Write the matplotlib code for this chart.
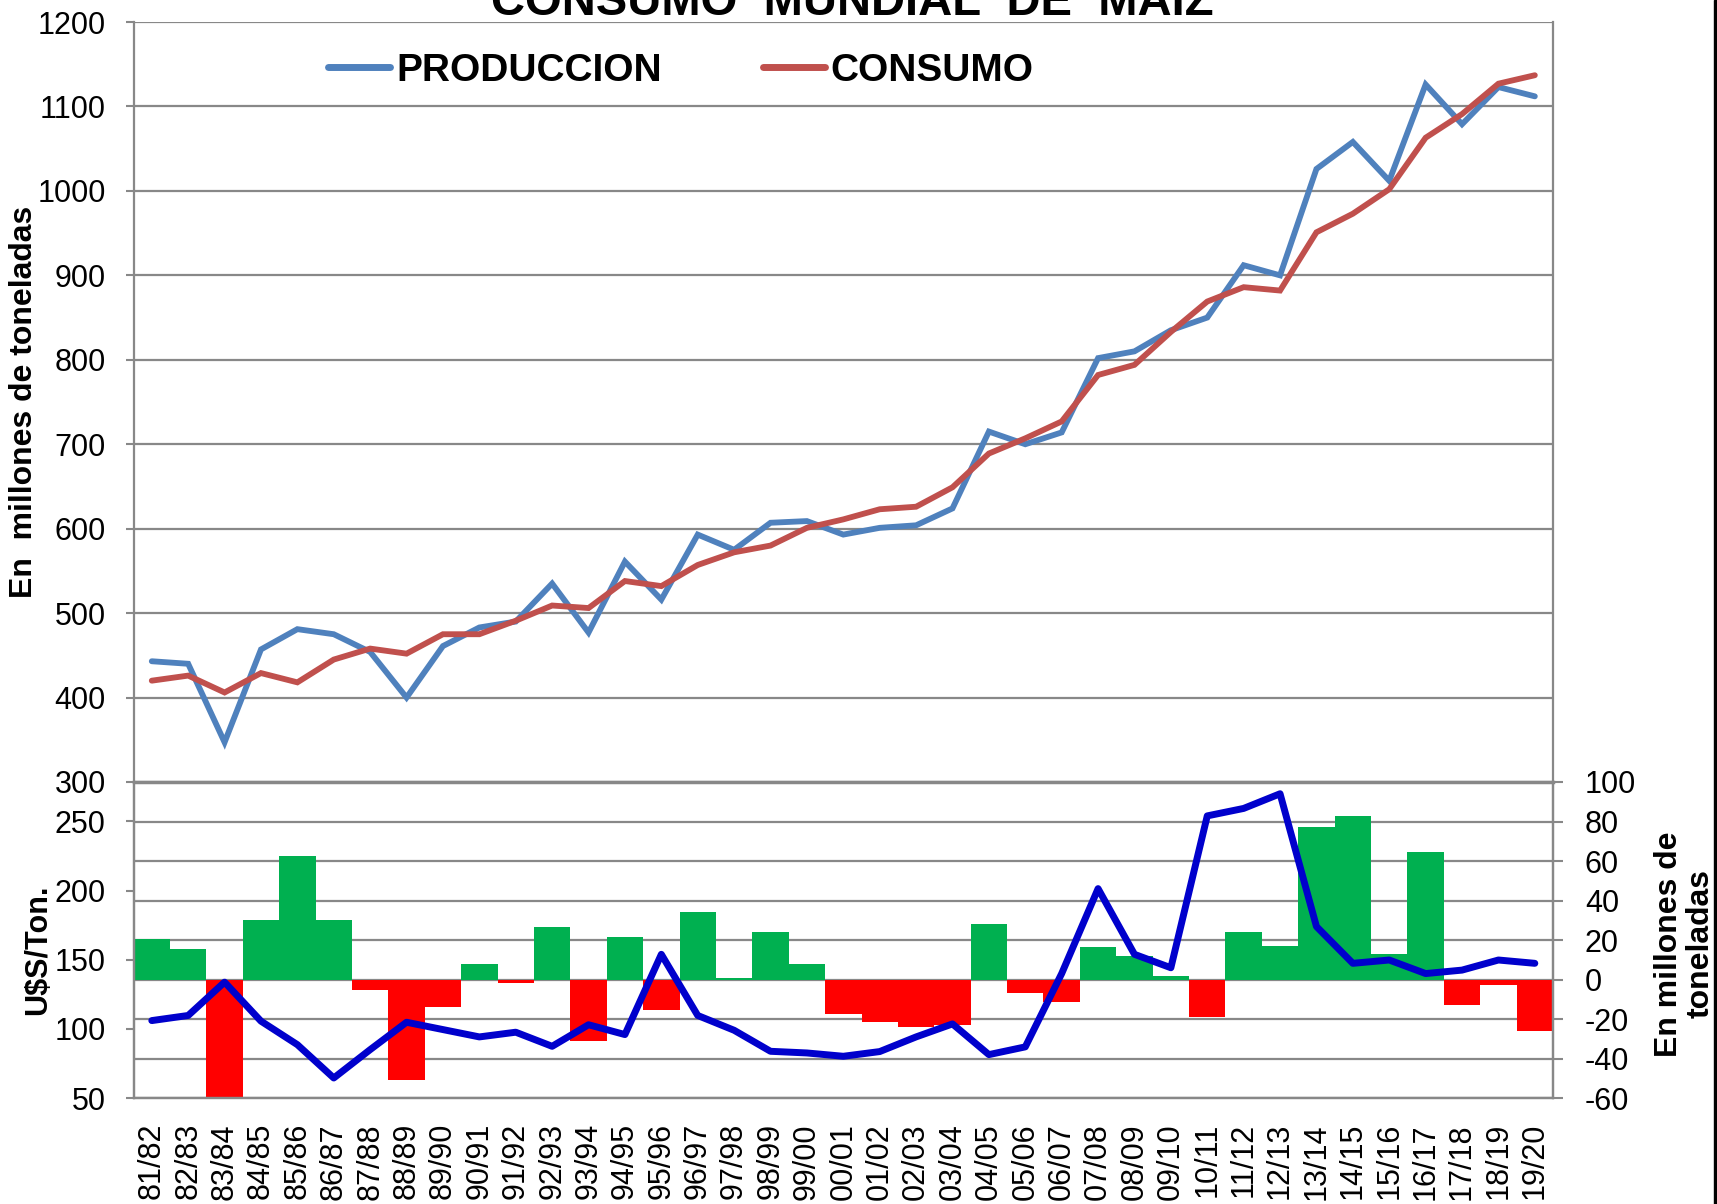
import matplotlib
matplotlib.use("Agg")
import matplotlib.pyplot as plt
from matplotlib.lines import Line2D
from matplotlib.patches import Rectangle

plt.rcParams["font.family"] = ["Liberation Sans", "DejaVu Sans"]
plt.rcParams["axes.unicode_minus"] = False

# Campañas
campanias = ["81/82", "82/83", "83/84", "84/85", "85/86", "86/87", "87/88", "88/89",
             "89/90", "90/91", "91/92", "92/93", "93/94", "94/95", "95/96", "96/97",
             "97/98", "98/99", "99/00", "00/01", "01/02", "02/03", "03/04", "04/05",
             "05/06", "06/07", "07/08", "08/09", "09/10", "10/11", "11/12", "12/13",
             "13/14", "14/15", "15/16", "16/17", "17/18", "18/19", "19/20"]

# millones de toneladas
produccion = [443, 440, 347, 457, 481, 475, 454, 400, 461, 483, 490, 535, 477, 561,
              516, 593, 575, 607, 609, 593, 601, 604, 624, 715, 700, 714, 802, 810,
              835, 850, 912, 900, 1026, 1058, 1012, 1126, 1079, 1123, 1112]
consumo = [420, 426, 406, 429, 418, 445, 458, 452, 475, 475, 491, 509, 506, 538,
           532, 557, 572, 580, 601, 611, 623, 626, 649, 689, 707, 727, 782, 794,
           833, 869, 886, 882, 951, 973, 1002, 1063, 1091, 1127, 1137]

# saldo (millones de toneladas, eje derecho)
saldo = [20.3, 15.6, -60, 30.3, 62.3, 30.3, -5.4, -51.1, -14, 8.1, -1.9, 26.6, -31.3,
         21.7, -15.6, 34, 0.8, 24.2, 8.1, -17.4, -21.5, -24, -22.8, 27.9, -6.8, -11.5,
         16.6, 11.8, 2, -19.1, 24, 16.9, 77, 82.9, 13, 64.6, -13, -2.9, -26.2]

# precio U$S/Ton (eje izquierdo inferior)
precio = [106, 109.7, 133.8, 105.6, 88.6, 64.5, 85, 104.8, 99.5, 94.2, 97.6, 87.4, 103,
          95.9, 153.9, 109.7, 99, 83.8, 82.6, 80.2, 83.6, 94.2, 103.6, 81.4, 87, 140,
          201.4, 153.9, 144.2, 254, 259.4, 270, 174, 147.4, 149.8, 140, 142.5, 149.8, 147.4]

GRIS = "#888888"
x = list(range(len(campanias)))

fig = plt.figure(figsize=(17.17, 12.04), dpi=100)

# ---- panel superior
ax = fig.add_axes([0.0778, 0.3505, 0.8267, 0.6312])
ax.plot(x, produccion, color="#4F81BD", lw=4.2, solid_capstyle="round", solid_joinstyle="miter", zorder=3)
ax.plot(x, consumo, color="#C0504D", lw=4.2, solid_capstyle="round", solid_joinstyle="miter", zorder=4)
ax.set_xlim(-0.5, len(x) - 0.5)
ax.set_ylim(300, 1200)
ax.set_yticks(range(300, 1201, 100))
ax.set_xticks([])
ax.grid(axis="y", color=GRIS, lw=1.6)
ax.set_axisbelow(True)
for s in ["left", "right", "bottom"]:
    ax.spines[s].set_color(GRIS)
    ax.spines[s].set_linewidth(1.6)
ax.spines["bottom"].set_linewidth(2.5)
ax.spines["top"].set_visible(False)
ax.tick_params(axis="y", labelsize=22, length=6, width=1.5, color=GRIS, pad=14)

# ---- panel inferior
axp = fig.add_axes([0.0778, 0.0880, 0.8267, 0.2625])
axb = axp.twinx()
colores = ["#00B050" if v >= 0 else "#FF0000" for v in saldo]
axb.bar(x, saldo, width=1.0, color=colores, linewidth=0, zorder=2)
axb.set_ylim(-60, 100)
axb.set_yticks(range(-60, 101, 20))
axb.grid(axis="y", color=GRIS, lw=1.6, zorder=0)
axb.set_axisbelow(True)
axb.tick_params(axis="y", labelsize=22, length=7, width=1.5, color=GRIS, pad=16)

axp.plot(x, precio, color="#0000CC", lw=5, solid_capstyle="round", zorder=5)
axp.set_ylim(50, 278.5)
axp.set_yticks(range(50, 251, 50))
axp.set_xlim(-0.5, len(x) - 0.5)
axp.set_xticks(x)
axp.set_xticklabels(campanias, rotation=90, fontsize=22)
axp.tick_params(axis="x", length=0, pad=18)
axp.tick_params(axis="y", labelsize=22, length=6, width=1.5, color=GRIS, pad=14)
axp.set_zorder(axb.get_zorder() + 1)
axp.patch.set_visible(False)
for a in (axp, axb):
    for s in a.spines.values():
        s.set_color(GRIS)
        s.set_linewidth(1.6)
    a.spines["top"].set_visible(False)

# ---- textos
fig.text(852 / 1717, 1 - 15 / 1204, "CONSUMO  MUNDIAL  DE  MAIZ", ha="center",
         va="baseline", fontsize=34, fontweight="bold")
fig.text(24 / 1717, 1 - 402 / 1204, "En  millones de toneladas", rotation=90,
         ha="center", va="center", fontsize=23, fontweight="bold")
fig.text(38 / 1717, 1 - 950 / 1204, r"U\$S/Ton.", rotation=90,
         ha="center", va="center", fontsize=22, fontweight="bold")
fig.text(1685 / 1717, 1 - 944 / 1204, "En millones de\ntoneladas", rotation=90,
         ha="center", va="center", fontsize=23, fontweight="bold", linespacing=1.05)

handles = [Line2D([], [], color="#4F81BD", lw=5, solid_capstyle="round"),
           Line2D([], [], color="#C0504D", lw=5, solid_capstyle="round")]
fig.legend(handles, ["PRODUCCION", "CONSUMO"], loc="center left",
           bbox_to_anchor=(328 / 1717, 1 - 71 / 1204), ncol=2, frameon=False,
           prop={"weight": "bold", "size": 28}, handlelength=1.6,
           handletextpad=0.15, columnspacing=2.6, borderpad=0, borderaxespad=0)

# borde derecho negro de la imagen
fig.patches.append(Rectangle((1714 / 1717, 0), 3 / 1717, 1, transform=fig.transFigure,
                             color="black", zorder=10))

fig.savefig("out.png", dpi=100)
